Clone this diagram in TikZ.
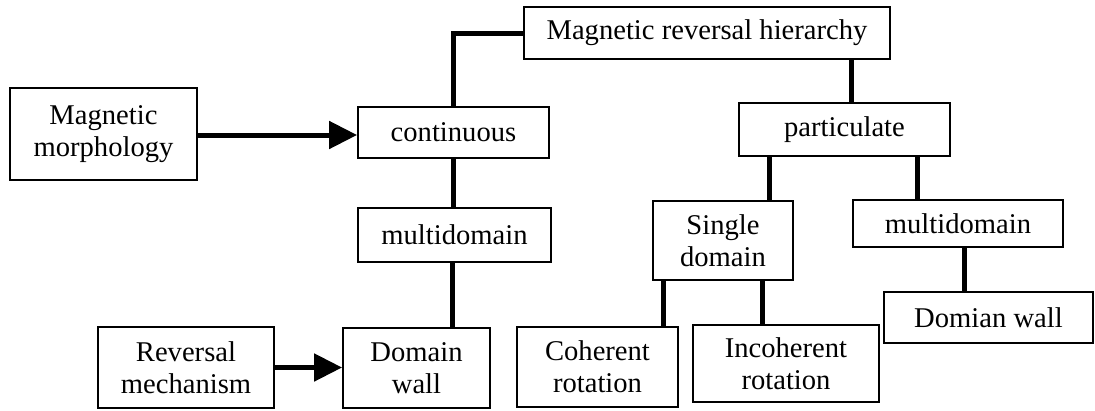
\documentclass[tikz,border=0pt]{standalone}
\usepackage{fontspec}
\setmainfont{Liberation Serif}
\usetikzlibrary{arrows.meta}
\begin{document}
\begin{tikzpicture}[x=1pt,y=-1pt,
  box/.style={draw=black,line width=1.8pt,inner sep=0pt,align=center,
    font=\fontsize{28.6}{32}\selectfont,text=black},
  link/.style={line width=5pt,black},
  arr/.style={line width=5pt,black,-{Triangle[length=28pt,width=27pt]}}]
\useasboundingbox (0,0) rectangle (1095,410);
\node[box,minimum width=187pt,minimum height=92pt] (mm) at (103.5,134) {Magnetic\\morphology};
\node[box,minimum width=191pt,minimum height=51pt] (cont) at (453.5,132.5) {continuous};
\node[box,minimum width=366pt,minimum height=52pt] (mrh) at (707,33) {Magnetic reversal hierarchy};
\node[box,minimum width=211pt,minimum height=53pt] (part) at (844.5,129.5) {particulate};
\node[box,minimum width=193pt,minimum height=54pt] (multiL) at (454.5,235) {multidomain};
\node[box,minimum width=176pt,minimum height=81pt] (rm) at (186,367.5) {Reversal\\mechanism};
\node[box,minimum width=147pt,minimum height=80pt] (dw) at (416.5,368) {Domain\\wall};
\node[box,minimum width=161pt,minimum height=80pt] (coh) at (597.5,367) {Coherent\\rotation};
\node[box,minimum width=140pt,minimum height=79pt] (sd) at (723,240.5) {Single\\domain};
\node[box,minimum width=186pt,minimum height=77pt] (inc) at (786,363.5) {Incoherent\\rotation};
\node[box,minimum width=210pt,minimum height=47pt] (multiR) at (958,223.5) {multidomain};
\node[box,minimum width=209pt,minimum height=51pt] (dw2) at (988.5,317.5) {Domian wall};
% connectors
\draw[arr] ([yshift=-1pt]mm.east) -- ([yshift=-1pt]mm.east -| cont.west);
\draw[arr] (rm.east) -- (rm.east -| dw.west);
\draw[link] ([xshift=-0.5pt]cont.north) |- (mrh.west);
\draw[link] ([xshift=144pt]mrh.south) -- ([xshift=144pt]mrh.south |- part.north);
\draw[link] ([xshift=-0.5pt]cont.south) -- ([xshift=-0.5pt]cont.south |- multiL.north);
\draw[link] ([xshift=-2pt]multiL.south) -- ([xshift=-2pt]multiL.south |- dw.north);
\draw[link] ([xshift=-75.5pt]part.south) -- ([xshift=-75.5pt]part.south |- sd.north);
\draw[link] ([xshift=72.5pt]part.south) -- ([xshift=72.5pt]part.south |- multiR.north);
\draw[link] ([xshift=-60pt]sd.south) -- ([xshift=-60pt]sd.south |- coh.north);
\draw[link] ([xshift=39pt]sd.south) -- ([xshift=39pt]sd.south |- inc.north);
\draw[link] ([xshift=6pt]multiR.south) -- ([xshift=6pt]multiR.south |- dw2.north);
\end{tikzpicture}
\end{document}
